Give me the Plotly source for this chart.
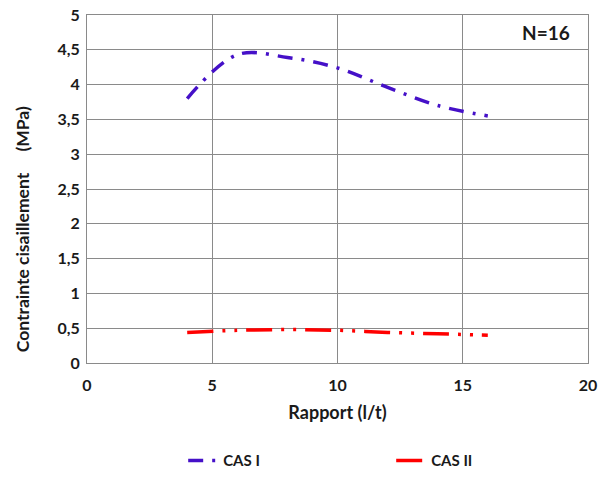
import plotly.graph_objects as go

# Shear stress vs. slenderness ratio, N=16
rapport = [4, 6, 8, 10, 12, 14, 16]
cas_1 = [3.80, 4.43, 4.39, 4.24, 3.96, 3.70, 3.55]
cas_2 = [0.44, 0.47, 0.48, 0.47, 0.44, 0.42, 0.40]

x_ticks = [0, 5, 10, 15, 20]
y_ticks = [0, 0.5, 1, 1.5, 2, 2.5, 3, 3.5, 4, 4.5, 5]

FONT = "Lato"
INK = "#1a1a1a"
GRID = "#8a8a8a"

fig = go.Figure()
fig.add_trace(go.Scatter(
    x=rapport, y=cas_1, mode="lines", name="CAS I",
    line=dict(color="#4510C8", width=3.5, shape="spline",
              dash="15px,9px,3px,9px"),
))
fig.add_trace(go.Scatter(
    x=rapport, y=cas_2, mode="lines", name="CAS II",
    line=dict(color="#FF0000", width=3.5, shape="spline",
              dash="26px,9px,3px,9px,3px,9px"),
))

axis_common = dict(
    showgrid=True, gridcolor=GRID, gridwidth=1,
    showline=True, linecolor=GRID, linewidth=1, mirror=True,
    zeroline=False, ticks="", ticklabeloverflow="allow",
    tickfont=dict(family=FONT, size=16, color=INK, weight="bold"),
)

fig.update_xaxes(range=[0, 20], tickvals=x_ticks, ticklabelstandoff=8,
                 **axis_common,
                 title=dict(text="Rapport (l/t)", standoff=13,
                            font=dict(family=FONT, size=18, color=INK,
                                      weight="bold")))
fig.update_yaxes(range=[0, 5], tickvals=y_ticks, ticklabelstandoff=3,
                 **axis_common)

fig.add_annotation(
    x=-0.13, y=0.384, xref="paper", yref="paper", textangle=-90,
    xanchor="center", yanchor="middle",
    text="Contrainte cisaillement\u00a0\u00a0\u00a0\u00a0\u00a0(MPa)",
    showarrow=False,
    font=dict(family=FONT, size=17.5, color=INK, weight="bold"),
)
fig.add_annotation(
    x=0.916, y=0.95, xref="paper", yref="paper",
    xanchor="center", yanchor="middle",
    text="N=16", showarrow=False,
    font=dict(family=FONT, size=19, color=INK, weight="bold"),
)

fig.update_layout(
    width=608, height=482,
    margin=dict(l=87, r=20, t=5, b=118),
    plot_bgcolor="white", paper_bgcolor="white",
    separators=", ",
    legend=dict(orientation="h", x=0.192, y=-0.281, yanchor="middle",
                xanchor="left", entrywidth=163, entrywidthmode="pixels",
                font=dict(family=FONT, size=15, color=INK, weight="bold")),
)

fig.write_html("out.html")
